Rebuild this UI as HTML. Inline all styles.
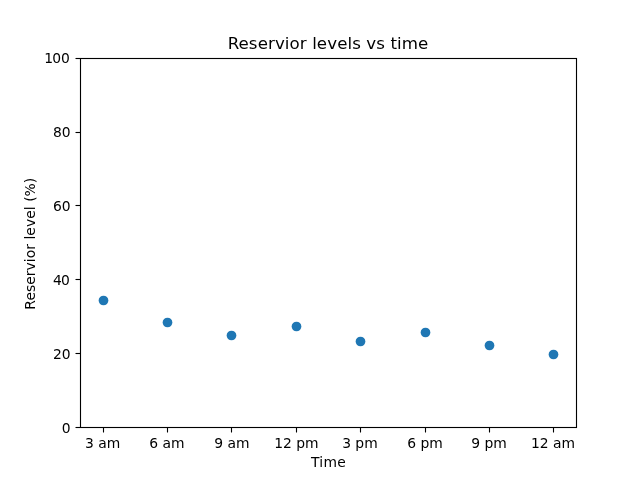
<!DOCTYPE html>
<html lang="en">
<head>
<meta charset="utf-8">
<title>Reservior levels vs time</title>
<style>
html,body{margin:0;padding:0;background:#fff;}
body{width:640px;height:480px;overflow:hidden;}
svg{display:block;}
text{font-family:"DejaVu Sans","Liberation Sans",sans-serif;fill:#000;}
.tk{font-size:13.89px;}
.ttl{font-size:16.67px;letter-spacing:0.085px;}
</style>
</head>
<body>
<svg width="640" height="480" viewBox="0 0 640 480">
<rect x="0" y="0" width="640" height="480" fill="#ffffff"/>

<g fill="#1f77b4">
<circle cx="103.5" cy="300.5" r="4.86"/>
<circle cx="167.5" cy="322.5" r="4.86"/>
<circle cx="231.5" cy="335.5" r="4.86"/>
<circle cx="296.5" cy="326.5" r="4.86"/>
<circle cx="360.5" cy="341.5" r="4.86"/>
<circle cx="425.5" cy="332.5" r="4.86"/>
<circle cx="489.5" cy="345.5" r="4.86"/>
<circle cx="553.5" cy="354.5" r="4.86"/>
</g>
<g stroke="#000" stroke-width="1.11" fill="none">
<line x1="103.5" y1="427.5" x2="103.5" y2="432.5"/>
<line x1="167.5" y1="427.5" x2="167.5" y2="432.5"/>
<line x1="231.5" y1="427.5" x2="231.5" y2="432.5"/>
<line x1="296.5" y1="427.5" x2="296.5" y2="432.5"/>
<line x1="360.5" y1="427.5" x2="360.5" y2="432.5"/>
<line x1="425.5" y1="427.5" x2="425.5" y2="432.5"/>
<line x1="489.5" y1="427.5" x2="489.5" y2="432.5"/>
<line x1="553.5" y1="427.5" x2="553.5" y2="432.5"/>
<line x1="80.5" y1="427.5" x2="75.5" y2="427.5"/>
<line x1="80.5" y1="353.5" x2="75.5" y2="353.5"/>
<line x1="80.5" y1="279.5" x2="75.5" y2="279.5"/>
<line x1="80.5" y1="205.5" x2="75.5" y2="205.5"/>
<line x1="80.5" y1="132.5" x2="75.5" y2="132.5"/>
<line x1="80.5" y1="58.5" x2="75.5" y2="58.5"/>
<rect x="80.5" y="58.5" width="496" height="369" stroke-linejoin="miter"/>
</g>
<text class="tk" x="102.55" y="448.4" text-anchor="middle">3 am</text>
<text class="tk" x="166.96" y="448.4" text-anchor="middle">6 am</text>
<text class="tk" x="231.78" y="448.4" text-anchor="middle">9 am</text>
<text class="tk" x="296.39" y="448.4" text-anchor="middle">12 pm</text>
<text class="tk" x="359.91" y="448.4" text-anchor="middle">3 pm</text>
<text class="tk" x="425.02" y="448.4" text-anchor="middle">6 pm</text>
<text class="tk" x="489.04" y="448.4" text-anchor="middle">9 pm</text>
<text class="tk" x="552.95" y="448.4" text-anchor="middle">12 am</text>
<text class="tk" x="61.87" y="432.50">0</text>
<text class="tk" x="53.04 61.86" y="358.58">20</text>
<text class="tk" x="53.04 60.96" y="284.66">40</text>
<text class="tk" x="53.04 61.86" y="210.74">60</text>
<text class="tk" x="53.04 61.86" y="136.82">80</text>
<text class="tk" x="44.32 52.13 61.06" y="62.90">100</text>
<text class="ttl" x="328" y="49.3" text-anchor="middle">Reservior levels vs time</text>
<text class="tk" x="328.5" y="467" text-anchor="middle" style="letter-spacing:0.25px">Time</text>
<text class="tk" transform="translate(35.2,243.7) rotate(-90)" text-anchor="middle" style="letter-spacing:0.045px">Reservior level (%)</text>
</svg>
</body>
</html>
